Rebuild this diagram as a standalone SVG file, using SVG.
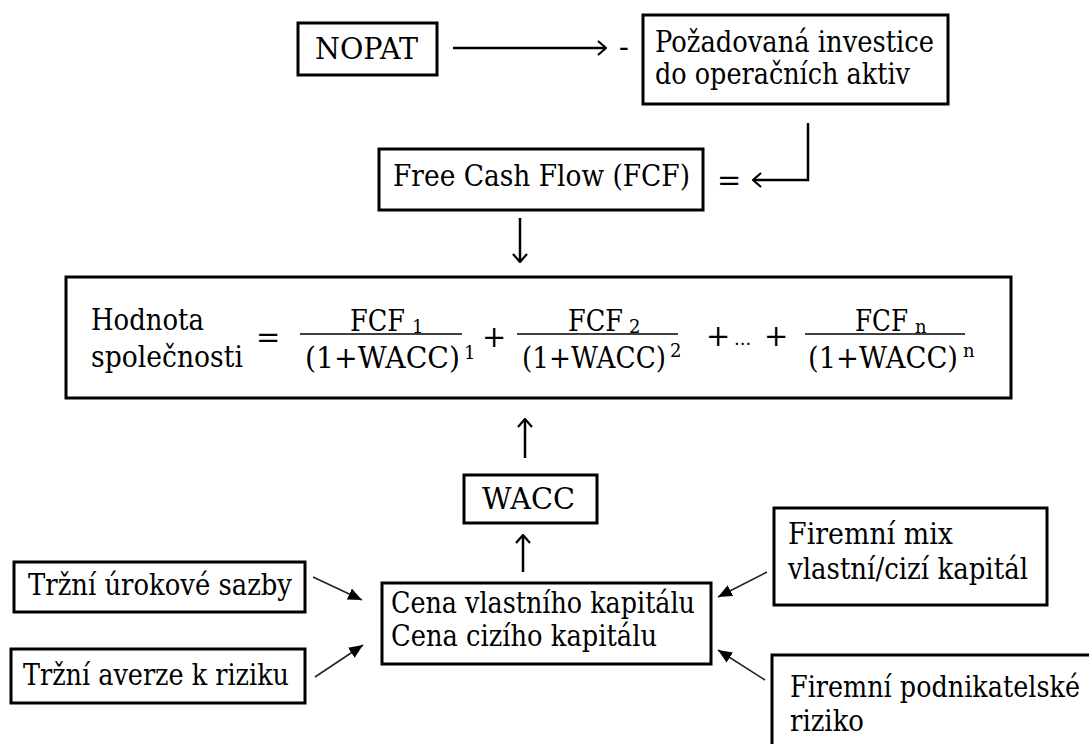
<svg xmlns="http://www.w3.org/2000/svg" width="1089" height="744" viewBox="0 0 1089 744">
  <style>
    .box { fill: #ffffff; stroke: #000000; stroke-width: 3; }
    .t { font-family: "DejaVu Serif", "Liberation Serif", serif; font-size: 29px; fill: #000000; }
    .sub { font-family: "DejaVu Serif", "Liberation Serif", serif; font-size: 18px; fill: #000000; }
    .thick { stroke: #000000; stroke-width: 2.5; fill: none; }
    .thin { stroke: #222222; stroke-width: 1.6; fill: none; }
    .bar { stroke: #000000; stroke-width: 1.6; }
  </style>
  <defs>
    <marker id="open" viewBox="0 0 10 16" refX="9" refY="8" markerWidth="10" markerHeight="16" markerUnits="userSpaceOnUse" orient="auto">
      <path d="M1,1 L9,8 L1,15" fill="none" stroke="#000000" stroke-width="2.2"/>
    </marker>
    <marker id="solid" viewBox="0 0 14 12" refX="14" refY="6" markerWidth="14" markerHeight="12" markerUnits="userSpaceOnUse" orient="auto">
      <path d="M0,0 L14,6 L0,12 Z" fill="#000000"/>
    </marker>
  </defs>

  <!-- connectors -->
  <g id="connectors">
    <line class="thick" x1="453" y1="48" x2="606" y2="48" marker-end="url(#open)"/>
    <polyline class="thick" points="808,123 808,180 753,180" marker-end="url(#open)"/>
    <line class="thick" x1="520" y1="218" x2="520" y2="262" marker-end="url(#open)"/>
    <line class="thick" x1="525" y1="458" x2="525" y2="419" marker-end="url(#open)"/>
    <line class="thick" x1="523" y1="572" x2="523" y2="535" marker-end="url(#open)"/>
    <line class="thin" x1="313" y1="577" x2="362" y2="600" marker-end="url(#solid)"/>
    <line class="thin" x1="315" y1="677" x2="363" y2="645" marker-end="url(#solid)"/>
    <line class="thin" x1="767" y1="572" x2="718" y2="597" marker-end="url(#solid)"/>
    <line class="thin" x1="765" y1="680" x2="718" y2="650" marker-end="url(#solid)"/>
  </g>

  <!-- operator signs between boxes -->
  <text class="t" x="619" y="57">-</text>
  <text class="t" x="717" y="190">=</text>

  <g id="nopat">
    <rect class="box" x="298" y="23" width="139" height="52"/>
    <text class="t" x="315" y="59" textLength="103" lengthAdjust="spacingAndGlyphs">NOPAT</text>
  </g>

  <g id="investice">
    <rect class="box" x="643" y="15" width="305" height="89"/>
    <text class="t" x="655" y="52" textLength="279" lengthAdjust="spacingAndGlyphs">Požadovaná investice</text>
    <text class="t" x="655" y="84" textLength="255" lengthAdjust="spacingAndGlyphs">do operačních aktiv</text>
  </g>

  <g id="fcf">
    <rect class="box" x="379" y="149" width="324" height="61"/>
    <text class="t" x="393" y="186" textLength="297" lengthAdjust="spacingAndGlyphs">Free Cash Flow (FCF)</text>
  </g>

  <g id="hodnota">
    <rect class="box" x="66" y="277" width="945" height="121"/>
    <text class="t" x="91" y="330" textLength="113" lengthAdjust="spacingAndGlyphs">Hodnota</text>
    <text class="t" x="91" y="367" textLength="152" lengthAdjust="spacingAndGlyphs">společnosti</text>
    <text class="t" x="256" y="347">=</text>
    <!-- term 1 -->
    <text class="t" x="350" y="331" textLength="55" lengthAdjust="spacingAndGlyphs">FCF</text>
    <text class="sub" x="412" y="333">1</text>
    <line class="bar" x1="300" y1="334" x2="462" y2="334"/>
    <text class="t" x="305" y="368" textLength="155" lengthAdjust="spacingAndGlyphs">(1+WACC)</text>
    <text class="sub" x="464" y="359">1</text>
    <text class="t" x="482" y="347">+</text>
    <!-- term 2 -->
    <text class="t" x="568" y="331" textLength="55" lengthAdjust="spacingAndGlyphs">FCF</text>
    <text class="sub" x="629" y="333">2</text>
    <line class="bar" x1="517" y1="334" x2="678" y2="334"/>
    <text class="t" x="522" y="368" textLength="144" lengthAdjust="spacingAndGlyphs">(1+WACC)</text>
    <text class="sub" x="670" y="357">2</text>
    <text class="t" x="706" y="346">+</text>
    <text class="sub" x="734" y="345">...</text>
    <text class="t" x="764" y="346">+</text>
    <!-- term n -->
    <text class="t" x="855" y="331" textLength="53" lengthAdjust="spacingAndGlyphs">FCF</text>
    <text class="sub" x="915" y="333">n</text>
    <line class="bar" x1="805" y1="334" x2="965" y2="334"/>
    <text class="t" x="808" y="368" textLength="150" lengthAdjust="spacingAndGlyphs">(1+WACC)</text>
    <text class="sub" x="963" y="357">n</text>
  </g>

  <g id="wacc">
    <rect class="box" x="464" y="475" width="133" height="48"/>
    <text class="t" x="482" y="509" textLength="93" lengthAdjust="spacingAndGlyphs">WACC</text>
  </g>

  <g id="cena">
    <rect class="box" x="382" y="583" width="329" height="81"/>
    <text class="t" x="391" y="613" textLength="304" lengthAdjust="spacingAndGlyphs">Cena vlastního kapitálu</text>
    <text class="t" x="391" y="646" textLength="266" lengthAdjust="spacingAndGlyphs">Cena cizího kapitálu</text>
  </g>

  <g id="sazby">
    <rect class="box" x="14" y="562" width="291" height="50"/>
    <text class="t" x="28" y="595" textLength="264" lengthAdjust="spacingAndGlyphs">Tržní úrokové sazby</text>
  </g>

  <g id="averze">
    <rect class="box" x="11" y="649" width="294" height="54"/>
    <text class="t" x="23" y="685" textLength="266" lengthAdjust="spacingAndGlyphs">Tržní averze k riziku</text>
  </g>

  <g id="mix">
    <rect class="box" x="774" y="508" width="273" height="97"/>
    <text class="t" x="788" y="544" textLength="165" lengthAdjust="spacingAndGlyphs">Firemní mix</text>
    <text class="t" x="788" y="579" textLength="240" lengthAdjust="spacingAndGlyphs">vlastní/cizí kapitál</text>
  </g>

  <g id="riziko">
    <rect class="box" x="772" y="655" width="340" height="110"/>
    <text class="t" x="790" y="697" textLength="290" lengthAdjust="spacingAndGlyphs">Firemní podnikatelské</text>
    <text class="t" x="790" y="731" textLength="74" lengthAdjust="spacingAndGlyphs">riziko</text>
  </g>
</svg>
